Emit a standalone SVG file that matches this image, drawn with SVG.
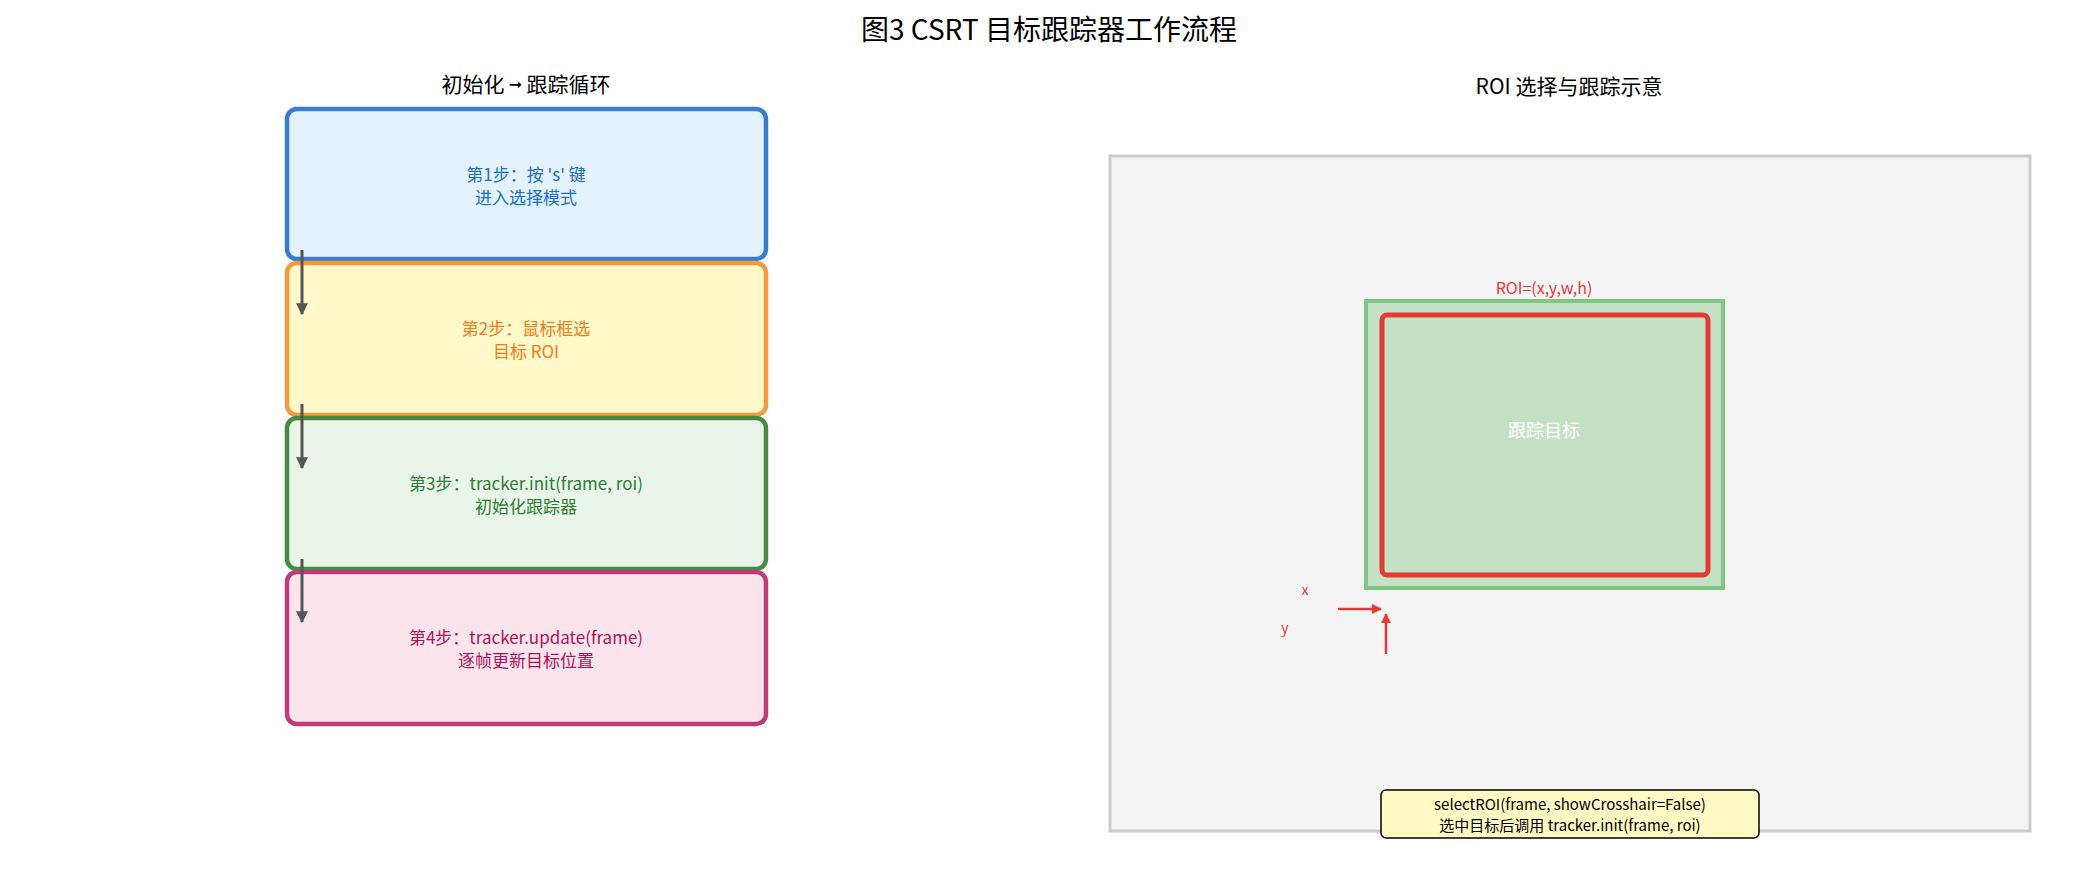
<svg xmlns="http://www.w3.org/2000/svg" width="2085" height="889" viewBox="0 0 2085 889">
<defs>
<style>
text{font-family:"Noto Sans CJK SC","Liberation Mono",monospace;text-anchor:middle}
.t{font-size:17px}
.step{stroke-width:4.5}
</style>
<marker id="ag" viewBox="0 0 10 10" refX="9" refY="5" markerWidth="4" markerHeight="4" orient="auto"><path d="M0,0L10,5L0,10z" fill="#555"/></marker>
<marker id="ar" viewBox="0 0 10 10" refX="9" refY="5" markerWidth="4" markerHeight="4" orient="auto"><path d="M0,0L10,5L0,10z" fill="#e53935"/></marker>
</defs>
<rect width="2085" height="889" fill="#fff"/>
<text x="1049" y="40" font-size="28">图3 CSRT 目标跟踪器工作流程</text>
<text x="526" y="92" font-size="21">初始化 ➞ 跟踪循环</text>
<text x="1569" y="94" font-size="21">ROI 选择与跟踪示意</text>
<g id="step1"><rect class="step" x="287" y="109" width="479" height="150" rx="10" fill="#e3f2fd" stroke="#3a7dcc"/>
<text class="t" x="526" y="181" fill="#1e6ec8">第1步：按 's' 键</text><text class="t" x="526" y="204" fill="#1e6ec8">进入选择模式</text></g>
<g id="step2"><rect class="step" x="287" y="263" width="479" height="152" rx="10" fill="#fff8c8" stroke="#f5993a"/>
<text class="t" x="526" y="335" fill="#f07c1c">第2步：鼠标框选</text><text class="t" x="526" y="358" fill="#f07c1c">目标 ROI</text></g>
<g id="step3"><rect class="step" x="287" y="418" width="479" height="151" rx="10" fill="#eaf5ea" stroke="#458c42"/>
<text class="t" x="526" y="490" fill="#2e7d32">第3步：tracker.init(frame, roi)</text><text class="t" x="526" y="513" fill="#2e7d32">初始化跟踪器</text></g>
<g id="step4"><rect class="step" x="287" y="572" width="479" height="152" rx="10" fill="#fbe4ec" stroke="#c13a78"/>
<text class="t" x="526" y="644" fill="#ad1457">第4步：tracker.update(frame)</text><text class="t" x="526" y="667" fill="#ad1457">逐帧更新目标位置</text></g>
<g id="connectors" stroke="#555" stroke-width="3" fill="none">
<line x1="302" y1="250" x2="302" y2="314" marker-end="url(#ag)"/>
<line x1="302" y1="404" x2="302" y2="468" marker-end="url(#ag)"/>
<line x1="302" y1="559" x2="302" y2="622" marker-end="url(#ag)"/>
</g>
<g id="frame"><rect x="1110" y="156" width="920" height="675" fill="#f4f4f4" stroke="#ccc" stroke-width="3"/></g>
<g id="roi">
<rect x="1366" y="301" width="357" height="287" fill="#c5e1c5" stroke="#81c784" stroke-width="4"/>
<rect x="1382" y="315" width="326" height="260" rx="5" fill="none" stroke="#e53935" stroke-width="5"/>
<text x="1544" y="294" font-size="16" fill="#e53935">ROI=(x,y,w,h)</text>
<text x="1544" y="437" font-size="18" fill="#fff">跟踪目标</text>
</g>
<g id="axes">
<text x="1305" y="595" font-size="14" fill="#e53935">x</text>
<text x="1285" y="633" font-size="14" fill="#e53935">y</text>
<line x1="1338" y1="609" x2="1381" y2="609" stroke="#e53935" stroke-width="2.5" marker-end="url(#ar)"/>
<line x1="1386" y1="654" x2="1386" y2="614" stroke="#e53935" stroke-width="2.5" marker-end="url(#ar)"/>
</g>
<g id="note"><rect x="1381" y="790" width="378" height="48" rx="5" fill="#fff9c4" stroke="#000" stroke-width="1.5"/>
<text x="1570" y="810" font-size="15">selectROI(frame, showCrosshair=False)</text>
<text x="1570" y="831" font-size="15">选中目标后调用 tracker.init(frame, roi)</text></g>
</svg>
